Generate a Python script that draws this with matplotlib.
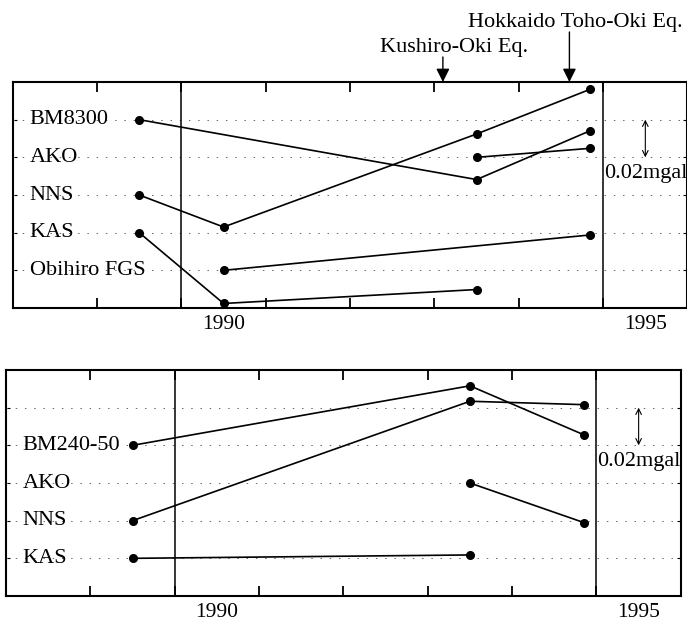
import matplotlib
matplotlib.use("Agg")
import matplotlib.pyplot as plt
import matplotlib.transforms as mtransforms

plt.rcParams['font.family'] = ['Liberation Serif', 'DejaVu Serif']

# gravity change (mgal) relative to the first survey, per station
# upper panel
top_labels = ["BM8300", "AKO", "NNS", "KAS", "Obihiro FGS"]
top_years = [
    [1989.5, 1993.5, 1994.85],
    [1993.5, 1994.85],
    [1989.5, 1990.5, 1993.5, 1994.85],
    [1989.5, 1990.5, 1993.5],
    [1990.5, 1994.85],
]
top_dg = [
    [0.0, -0.0318, -0.0058],
    [0.0, 0.0048],
    [0.0, -0.017, 0.0324, 0.0562],
    [0.0, -0.0376, -0.0302],
    [0.0, 0.0188],
]

# lower panel (first row has no station)
bot_labels = ["", "BM240-50", "AKO", "NNS", "KAS"]
bot_years = [
    [],
    [1989.5, 1993.5, 1994.85],
    [1993.5, 1994.85],
    [1989.5, 1993.5, 1994.85],
    [1989.5, 1993.5],
]
bot_dg = [
    [],
    [0.0, 0.0316, 0.0056],
    [0.0, -0.021],
    [0.0, 0.0634, 0.0616],
    [0.0, 0.0018],
]

# earthquakes
quakes = ["Kushiro-Oki Eq.", "Hokkaido Toho-Oki Eq."]
quake_year = [1993.1, 1994.6]

SPACING = 0.02  # mgal between station rows
FS = 16


def panel(ax, labels, years, dg):
    n = len(labels)
    for i, name in enumerate(labels):
        base = -i * SPACING
        ax.axhline(base, color='0.4', lw=0.7, dashes=(1.5, 8))
        if name:
            ax.text(1988.2, base, name, fontsize=FS, va='center', ha='left')
        if years[i]:
            ys = [base + v for v in dg[i]]
            ax.plot(years[i], ys, color='black', lw=1.2, marker='o',
                    markersize=5.5, zorder=3)
    ax.axvline(1990, color='black', lw=1.1)
    ax.axvline(1995, color='black', lw=1.1)
    ax.set_xlim(1988, 1996)
    ax.set_ylim(-n * SPACING, SPACING)
    ax.set_xticks(range(1989, 1996))
    ax.set_xticklabels([])
    ax.set_xticks([1990.5, 1995.5], minor=True)
    ax.set_xticklabels(['1990', '1995'], minor=True, fontsize=15.5)
    ax.tick_params(axis='x', which='major', direction='in', length=7,
                   width=1.3, top=True, bottom=True)
    ax.tick_params(axis='x', which='minor', length=0, pad=5)
    ax.set_yticks([-i * SPACING for i in range(n)])
    ax.set_yticklabels([])
    ax.tick_params(axis='y', direction='in', length=3, width=0.8,
                   left=True, right=True)
    for s in ax.spines.values():
        s.set_linewidth(1.5)
    # 0.02 mgal scale bar
    ax.annotate('', xy=(1995.5, 0.0), xytext=(1995.5, -SPACING),
                arrowprops=dict(arrowstyle='<->', lw=0.8, shrinkA=0,
                                shrinkB=0, mutation_scale=10))
    ax.text(1995.5, -0.0288, '0.02mgal', fontsize=FS, ha='center',
            va='center')


fig = plt.figure(figsize=(6.87, 6.22), dpi=100)
ax1 = fig.add_axes([12.7 / 687, 1 - 308 / 622, (687.5 - 12.7) / 687, 226 / 622])
ax2 = fig.add_axes([6 / 687, 1 - 596 / 622, (680.8 - 6) / 687, 226 / 622])

panel(ax1, top_labels, top_years, top_dg)
panel(ax2, bot_labels, bot_years, bot_dg)

# earthquake arrows on the upper panel
trans = mtransforms.blended_transform_factory(ax1.transData, ax1.transAxes)
arrow_len = [18, 36]
text_pos = [(1993.23, 1.133), (1994.67, 1.245)]
for name, yr, alen, (tx, ty) in zip(quakes, quake_year, arrow_len, text_pos):
    ax1.annotate('', xy=(yr, 1.0), xycoords=trans,
                 xytext=(0, alen), textcoords='offset points',
                 arrowprops=dict(arrowstyle='-|>', color='black', lw=1.0,
                                 shrinkA=0, shrinkB=0, mutation_scale=20),
                 annotation_clip=False)
    ax1.text(tx, ty, name, transform=trans, fontsize=FS, ha='center',
             va='baseline')

fig.savefig("out.png", dpi=100)
